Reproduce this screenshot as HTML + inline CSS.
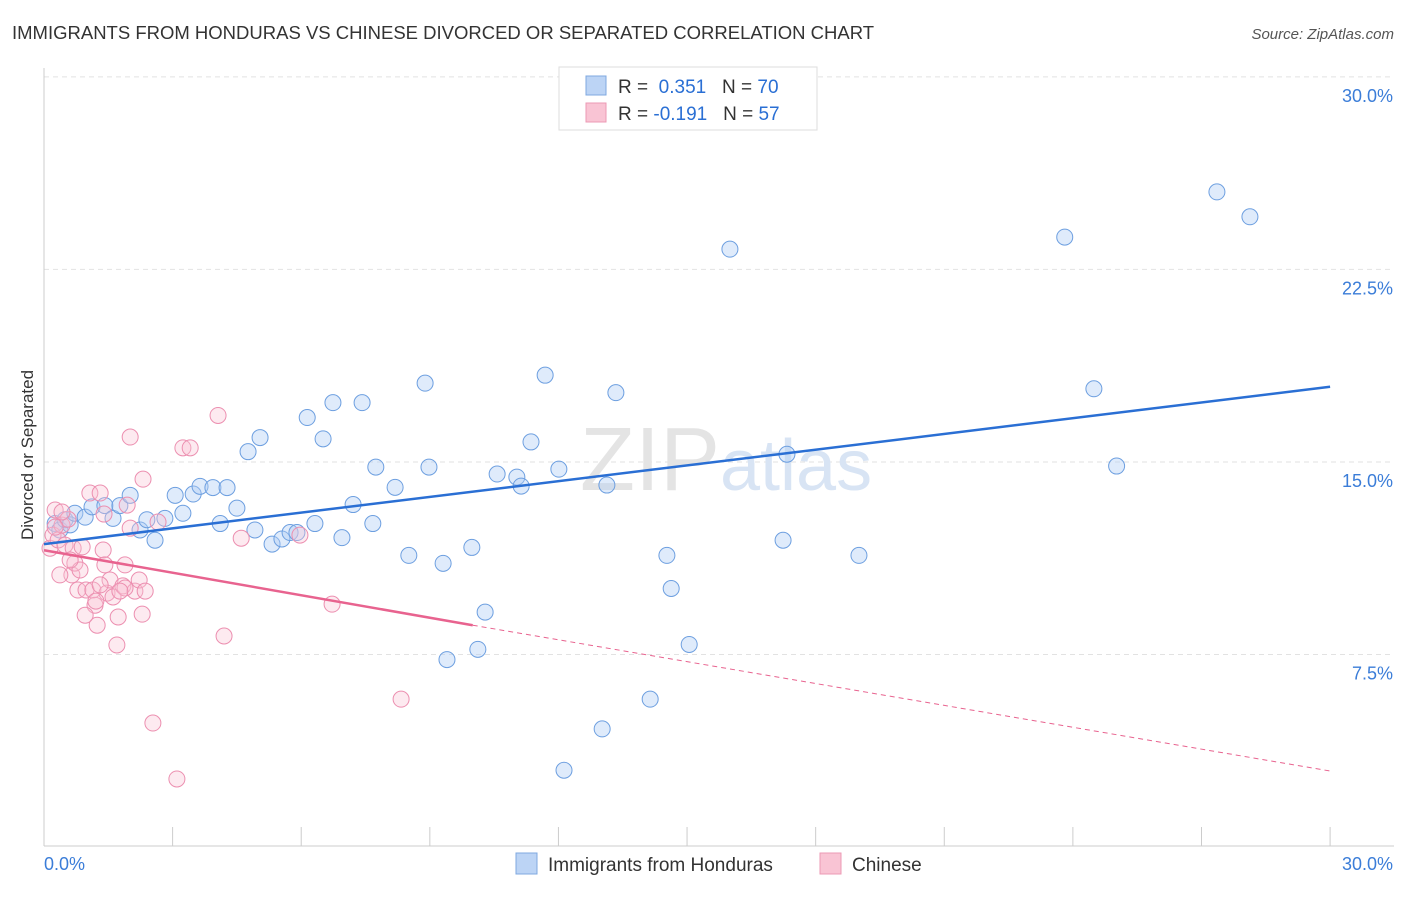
<!DOCTYPE html>
<html><head><meta charset="utf-8"><style>
body{margin:0;background:#fff;font-family:"Liberation Sans",sans-serif}
svg text{font-family:"Liberation Sans",sans-serif}
</style></head><body>
<svg id="chart" width="1406" height="892">
<text x="12" y="39" font-size="18.5" fill="#333">IMMIGRANTS FROM HONDURAS VS CHINESE DIVORCED OR SEPARATED CORRELATION CHART</text>
<text x="1394" y="39" font-size="15" fill="#555" font-style="italic" text-anchor="end">Source: ZipAtlas.com</text>
<text x="33" y="455" font-size="17" fill="#333" text-anchor="middle" transform="rotate(-90 33 455)">Divorced or Separated</text>
<g id="grid"></g>
<text x="720" y="490" font-size="90" fill="#e4e4e4" text-anchor="end" font-family="Liberation Serif">ZIP</text>
<text x="720" y="490" font-size="72" fill="#d8e4f4">atlas</text>
<g id="pts"></g>
<g id="lines"></g>
<g>
<rect x="559" y="67" width="258" height="63" fill="#fff" stroke="#ddd"/>
<rect x="586" y="76" width="20" height="19" fill="#bcd4f5" stroke="#7fa8e0"/>
<rect x="586" y="103" width="20" height="19" fill="#f9c4d4" stroke="#ec9ab4"/>
<text x="618" y="93" font-size="19" fill="#333">R = <tspan fill="#2a6fd4">&#160;0.351</tspan>&#160;&#160;&#160;N = <tspan fill="#2a6fd4">70</tspan></text>
<text x="618" y="120" font-size="19" fill="#333">R = <tspan fill="#2a6fd4">-0.191</tspan>&#160;&#160;&#160;N = <tspan fill="#2a6fd4">57</tspan></text>
</g>
<g>
<rect x="516" y="853" width="21" height="21" fill="#bcd4f5" stroke="#7fa8e0"/>
<text x="548" y="871" font-size="19" fill="#333">Immigrants from Honduras</text>
<rect x="820" y="853" width="21" height="21" fill="#f9c4d4" stroke="#ec9ab4"/>
<text x="852" y="871" font-size="19" fill="#333">Chinese</text>
</g>
</svg>
<script>
const yTicks=[7.5,15,22.5,30];
const yTickLabels=["7.5%","15.0%","22.5%","30.0%"];
const xEndLabels=["0.0%","30.0%"];
const blueX=[0.26,0.37,0.49,0.61,0.72,0.96,1.12,1.42,1.61,1.77,2.01,2.24,2.40,2.59,2.82,3.06,3.24,3.48,3.64,3.94,4.11,4.27,4.50,4.76,4.92,5.04,5.32,5.55,5.74,5.90,6.14,6.32,6.51,6.74,6.95,7.21,7.42,7.67,7.74,8.19,8.51,8.89,8.98,9.31,9.40,9.98,10.12,10.29,10.57,11.03,11.13,11.36,11.69,12.01,12.13,13.02,13.13,13.34,14.14,14.53,14.63,15.05,16.00,17.24,17.33,19.01,23.81,24.49,25.02,27.36,28.13];
const blueY=[12.6,12.35,12.75,12.55,13.0,12.85,13.25,13.3,12.8,13.3,13.7,12.35,12.75,11.95,12.8,13.7,13.0,13.75,14.05,14.0,12.6,14.0,13.2,15.4,12.35,15.95,11.8,12.0,12.25,12.25,16.73,12.6,15.9,17.31,12.05,13.34,17.31,12.6,14.8,14.01,11.36,18.07,14.8,11.05,7.3,11.67,7.7,9.15,14.53,14.41,14.06,15.78,18.38,14.72,2.99,4.6,14.1,17.7,5.76,11.36,10.07,7.89,23.29,11.95,15.3,11.36,23.76,17.85,14.84,25.52,24.55];
const pinkX=[0.14,0.21,0.26,0.33,0.42,0.49,0.56,0.65,0.68,0.72,0.79,0.84,0.89,0.98,1.07,1.14,1.19,1.24,1.31,1.38,1.42,1.47,1.54,1.61,1.70,1.73,1.84,1.89,1.94,2.01,2.12,2.22,2.29,2.31,2.01,2.54,2.66,3.10,3.24,3.41,4.06,4.20,4.60,5.97,6.72,8.33,0.37,0.61,0.96,1.89,1.21,0.42,0.26,1.31,2.36,1.77,1.40];
const pinkY=[11.64,12.15,13.13,11.96,12.54,11.76,12.77,10.6,11.64,11.06,10.01,10.79,11.69,10.01,13.79,10.01,9.42,8.64,13.79,11.57,10.99,9.89,10.40,9.74,7.87,8.96,10.17,10.99,13.32,12.42,9.97,10.40,9.07,14.33,15.97,4.83,12.66,2.65,15.55,15.55,16.81,8.22,12.03,12.15,9.46,5.76,10.6,11.18,9.03,10.09,9.58,13.05,12.46,10.21,9.97,9.97,12.97];
const blueLine=[0,11.8,30,17.93];
const pinkLine=[0,11.56,10,8.64,30,2.96];
const X=v=>44+v*42.87, Y=v=>847-v*25.67;
const NS="http://www.w3.org/2000/svg";
function mk(t,a,p){const e=document.createElementNS(NS,t);for(const k in a)e.setAttribute(k,a[k]);p.appendChild(e);return e;}
const g=document.getElementById('grid');
yTicks.forEach((v,i)=>{
 const l=mk('line',{x1:44,x2:1394,y1:Y(v),y2:Y(v),stroke:'#e2e2e2','stroke-dasharray':'5,4'},g);
 
 
 const t=mk('text',{x:1393,y:Y(v)+25,'font-size':18,fill:'#3b7dd8','text-anchor':'end'},g);
 t.textContent=yTickLabels[i];
 
 
});
const ax=mk('line',{x1:44,x2:44,y1:68,y2:846,stroke:'#ccc'},g);


const bx=mk('line',{x1:44,x2:1394,y1:846,y2:846,stroke:'#ccc'},g);


for(let i=0;i<=10;i++){const t=mk('line',{x1:X(i*3),x2:X(i*3),y1:827,y2:846,stroke:'#ccc'},g);
 
 }
[0,30].forEach((v,i)=>{const t=mk('text',{x:i?1393:44,y:870,'font-size':18,fill:'#3b7dd8','text-anchor':i?'end':'start'},g);t.textContent=xEndLabels[i];
 
 });
const p=document.getElementById('pts');
blueX.forEach((x,i)=>{const c=mk('circle',{cx:X(x),cy:Y(blueY[i]),r:8,fill:'rgba(175,205,245,0.4)',stroke:'#6d9fe0','stroke-width':1},p);
 
 });
pinkX.forEach((x,i)=>{const c=mk('circle',{cx:X(x),cy:Y(pinkY[i]),r:8,fill:'rgba(250,195,212,0.35)',stroke:'#ec8fb0','stroke-width':1},p);
 
 });
const L=document.getElementById('lines');
const b=mk('line',{x1:X(blueLine[0]),y1:Y(blueLine[1]),x2:X(blueLine[2]),y2:Y(blueLine[3]),stroke:'#2a6fd4','stroke-width':2.5},L);


const s=mk('line',{x1:X(pinkLine[0]),y1:Y(pinkLine[1]),x2:X(pinkLine[2]),y2:Y(pinkLine[3]),stroke:'#e8638f','stroke-width':2.5},L);


const d=mk('line',{x1:X(pinkLine[2]),y1:Y(pinkLine[3]),x2:X(pinkLine[4]),y2:Y(pinkLine[5]),stroke:'#e8638f','stroke-width':1,'stroke-dasharray':'5,4'},L);


</script>
</body></html>
